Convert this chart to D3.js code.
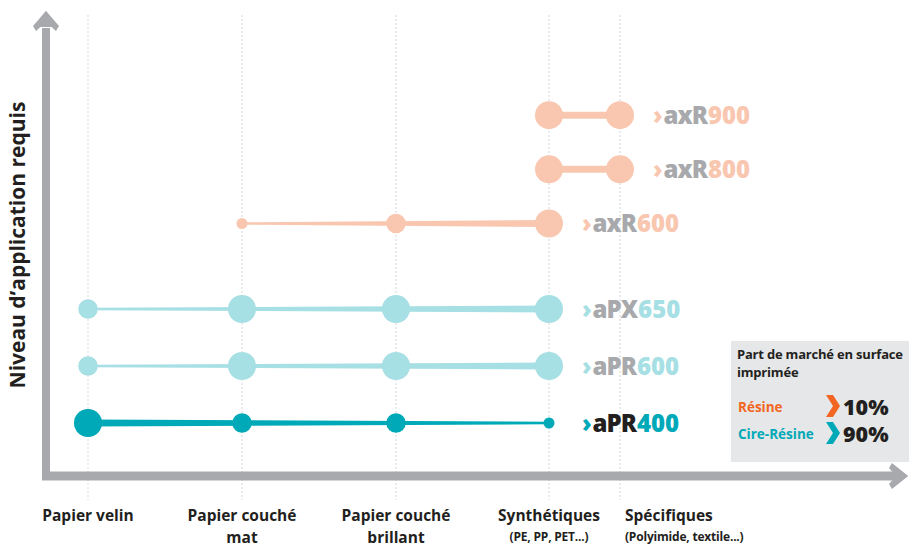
<!DOCTYPE html>
<html>
<head>
<meta charset="utf-8">
<script src="https://cdn.jsdelivr.net/npm/d3@7"></script>
<style>
  body { margin: 0; background: #fff; }
  svg { display: block; font-family: "Open Sans", "Noto Sans", sans-serif; }
</style>
</head>
<body>
<svg id="chart" width="909" height="546"></svg>
<script>
// categories along the x axis
const categories = ["Papier velin", "Papier couché mat", "Papier couché brillant", "Synthétiques", "Spécifiques"];
const catLines = [["Papier velin"], ["Papier couché", "mat"], ["Papier couché", "brillant"], ["Synthétiques"], ["Spécifiques"]];
const catSub = ["", "", "", "(PE, PP, PET...)", "(Polyimide, textile...)"];

// ribbons (bottom to top)
const seriesNames = ["APR400", "APR600", "APX650", "AXR600", "AXR800", "AXR900"];
const brands = ["aPR", "aPR", "aPX", "axR", "axR", "axR"];
const numbers = ["400", "600", "650", "600", "800", "900"];
const levels = [1, 2, 3, 4.5, 5.45, 6.4];
// suitability per category (1 = small, 3 = large), null = not used
const suitability = [
  [3, 2, 2, 1, null],
  [2, 3, 3, 3, null],
  [2, 3, 3, 3, null],
  [null, 1, 2, 3, null],
  [null, null, null, 3, 3],
  [null, null, null, 3, 3]
];
// line thickness at start and end
const lineStart = [3, 1, 1, 1, 3, 3];
const lineEnd = [1, 3, 3, 3, 3, 3];
const families = ["cire", "resine-light", "resine-light", "resine", "resine", "resine"];

const legendLabels = ["Résine", "Cire-Résine"];
const legendValues = ["10%", "90%"];

const colors = {
  "cire": "#00a9b7",
  "resine-light": "#a6dfe4",
  "resine": "#f9c7b0"
};
const brandColors = ["#231f20", "#a7a9ac", "#a7a9ac", "#a7a9ac", "#a7a9ac", "#a7a9ac"];

const svg = d3.select("#chart");
const axisGray = "#a7a9ac";

const x = d3.scaleOrdinal().domain(categories).range([88, 242, 396, 549, 620]);
const y = d3.scaleLinear().domain([0, 7]).range([480, 81]);
const r = d3.scaleLinear().domain([1, 3]).range([5.5, 14]);
const w = d3.scaleLinear().domain([1, 3]).range([2.5, 7]);

// dotted vertical guides
svg.append("g")
  .selectAll("line")
  .data(categories)
  .join("line")
  .attr("x1", (d) => x(d))
  .attr("x2", (d) => x(d))
  .attr("y1", 15)
  .attr("y2", 500)
  .attr("stroke", "#d6d7d9")
  .attr("stroke-width", 1)
  .attr("stroke-dasharray", "2,2");

// axes with arrows
svg.append("line")
  .attr("x1", 46).attr("x2", 46)
  .attr("y1", 480).attr("y2", 28)
  .attr("stroke", axisGray).attr("stroke-width", 8);
svg.append("path")
  .attr("d", "M46,11 L59,26 L56,31 L46,22 L36,31 L33,26 Z")
  .attr("fill", axisGray);
svg.append("path")
  .attr("d", "M46,11 L58,27 L34,27 Z")
  .attr("fill", axisGray);

svg.append("line")
  .attr("x1", 42).attr("x2", 896)
  .attr("y1", 476).attr("y2", 476)
  .attr("stroke", axisGray).attr("stroke-width", 9);
svg.append("path")
  .attr("d", "M908,476 L892,463 L889,468 L896,476 L889,484 L892,489 Z")
  .attr("fill", axisGray);
svg.append("path")
  .attr("d", "M908,476 L893,465 L893,487 Z")
  .attr("fill", axisGray);

// y title
svg.append("text")
  .attr("transform", "translate(25,245) rotate(-90)")
  .attr("text-anchor", "middle")
  .attr("font-size", 21)
  .attr("font-weight", 700)
  .attr("fill", "#231f20")
  .text("Niveau d’application requis");

// x labels
const xl = svg.append("g");
catLines.forEach((lines, i) => {
  const left = i === 4;
  const px = left ? x(categories[i]) + 5 : x(categories[i]);
  lines.forEach((l, j) => {
    xl.append("text")
      .attr("x", px)
      .attr("y", j === 0 ? 521 : 542.5)
      .attr("text-anchor", left ? "start" : "middle")
      .attr("font-size", 15.5)
      .attr("font-weight", 700)
      .attr("fill", "#231f20")
      .text(l);
  });
  if (catSub[i]) {
    xl.append("text")
      .attr("x", px)
      .attr("y", 541)
      .attr("text-anchor", left ? "start" : "middle")
      .attr("font-size", 12)
      .attr("font-weight", 700)
      .attr("letter-spacing", -0.2)
      .attr("fill", "#231f20")
      .text(catSub[i]);
  }
});

// ribbons
const area = d3.area()
  .x((d) => d.x)
  .y0((d) => d.y - d.w / 2)
  .y1((d) => d.y + d.w / 2);

const rows = svg.append("g");
seriesNames.forEach((name, i) => {
  const pts = suitability[i]
    .map((v, j) => ({ cat: categories[j], v: v }))
    .filter((d) => d.v !== null);
  const col = colors[families[i]];
  const cy = y(levels[i]);
  const g = rows.append("g");
  const first = pts[0];
  const last = pts[pts.length - 1];
  g.append("path")
    .attr("d", area([
      { x: x(first.cat), y: cy, w: w(lineStart[i]) },
      { x: x(last.cat), y: cy, w: w(lineEnd[i]) }
    ]))
    .attr("fill", col);
  g.selectAll("circle")
    .data(pts)
    .join("circle")
    .attr("cx", (d) => x(d.cat))
    .attr("cy", cy)
    .attr("r", (d) => r(d.v))
    .attr("fill", col);

  const t = g.append("text")
    .attr("x", x(last.cat) + 33)
    .attr("y", cy + 8.5)
    .attr("font-size", 24)
    .attr("font-weight", 800);
  t.append("tspan").attr("fill", col).text("›");
  t.append("tspan").attr("fill", brandColors[i]).attr("dx", 1).attr("letter-spacing", -1).text(brands[i]);
  t.append("tspan").attr("fill", col).attr("dx", 1).text(numbers[i]);
});

// market share box
const lg = svg.append("g").attr("transform", "translate(731,341)");
lg.append("rect")
  .attr("width", 178).attr("height", 121)
  .attr("fill", "#e6e7e8");
lg.append("text")
  .attr("x", 6).attr("y", 18)
  .attr("font-size", 13)
  .attr("font-weight", 700)
  .attr("letter-spacing", -0.2)
  .attr("fill", "#231f20")
  .selectAll("tspan")
  .data(["Part de marché en surface", "imprimée"])
  .join("tspan")
  .attr("x", 6)
  .attr("dy", (d, i) => (i === 0 ? 0 : 18))
  .text((d) => d);

const legendColors = ["#f26522", colors["cire"]];
legendLabels.forEach((lab, i) => {
  const yy = 71 + i * 27;
  lg.append("text")
    .attr("x", 7).attr("y", yy)
    .attr("font-size", 13.5)
    .attr("font-weight", 700)
    .attr("fill", legendColors[i])
    .text(lab);
  lg.append("path")
    .attr("d", `M95,${yy - 17} L102,${yy - 17} L109,${yy - 6} L102,${yy + 5} L95,${yy + 5} L102,${yy - 6} Z`)
    .attr("fill", legendColors[i]);
  lg.append("text")
    .attr("x", 112).attr("y", yy + 3)
    .attr("font-size", 21.5)
    .attr("font-weight", 800)
    .attr("fill", "#231f20")
    .text(legendValues[i]);
});
</script>
</body>
</html>
